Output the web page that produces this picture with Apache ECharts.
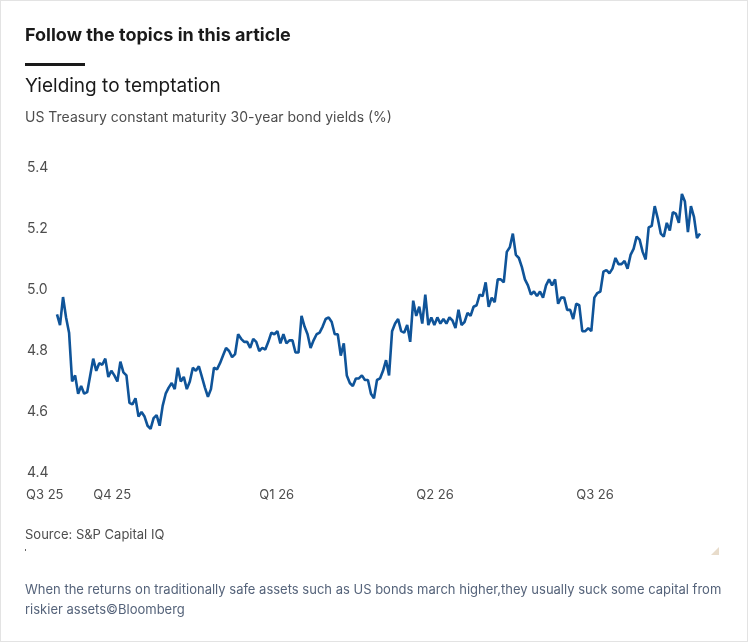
<!DOCTYPE html>
<html>
<head>
<meta charset="utf-8">
<script src="https://cdn.jsdelivr.net/npm/echarts@6/dist/echarts.min.js"></script>
<style>
  html, body { margin: 0; padding: 0; background: #fff; }
  #chart { width: 748px; height: 642px; box-sizing: border-box; border: 1px solid #e3e3e3; }
</style>
</head>
<body>
<div id="chart"></div>
<script>
// 30-year yields
var yields = [
  4.92, 4.885, 4.977, 4.91, 4.86, 4.70, 4.72, 4.66, 4.685, 4.66, 4.665, 4.72, 4.775, 4.735, 4.76, 4.755,
  4.775, 4.715, 4.735, 4.72, 4.70, 4.765, 4.73, 4.72, 4.63, 4.625, 4.645, 4.585, 4.60, 4.585, 4.555, 4.545,
  4.58, 4.59, 4.555, 4.62, 4.66, 4.68, 4.695, 4.675, 4.745, 4.70, 4.715, 4.675, 4.70, 4.745, 4.735, 4.75,
  4.715, 4.68, 4.65, 4.675, 4.745, 4.74, 4.76, 4.785, 4.81, 4.80, 4.78, 4.79, 4.855, 4.84, 4.83, 4.83,
  4.81, 4.84, 4.83, 4.80, 4.81, 4.805, 4.83, 4.86, 4.855, 4.865, 4.825, 4.855, 4.825, 4.835, 4.835, 4.795,
  4.795, 4.915, 4.88, 4.855, 4.81, 4.835, 4.855, 4.86, 4.88, 4.905, 4.91, 4.895, 4.855, 4.855, 4.785, 4.825,
  4.72, 4.695, 4.685, 4.71, 4.71, 4.72, 4.705, 4.705, 4.66, 4.645, 4.705, 4.71, 4.735, 4.77, 4.72, 4.865,
  4.89, 4.905, 4.865, 4.86, 4.885, 4.83, 4.965, 4.915, 4.945, 4.89, 4.985, 4.885, 4.91, 4.885, 4.91, 4.89,
  4.905, 4.89, 4.91, 4.90, 4.875, 4.935, 4.885, 4.895, 4.925, 4.915, 4.945, 4.95, 4.985, 4.98, 5.025, 4.945,
  4.975, 4.96, 5.035, 5.035, 5.025, 5.125, 5.14, 5.185, 5.115, 5.105, 5.075, 5.035, 5.015, 4.985, 4.995, 4.98,
  4.995, 4.975, 5.015, 5.035, 5.015, 5.035, 4.955, 4.975, 4.975, 4.935, 4.935, 4.905, 4.955, 4.95, 4.865, 4.865,
  4.875, 4.865, 4.975, 4.99, 4.995, 5.06, 5.065, 5.055, 5.07, 5.105, 5.085, 5.085, 5.095, 5.07, 5.115, 5.135,
  5.175, 5.165, 5.125, 5.10, 5.205, 5.21, 5.275, 5.235, 5.185, 5.175, 5.22, 5.195, 5.255, 5.25, 5.22, 5.315,
  5.29, 5.19, 5.275, 5.24, 5.17, 5.185
];
// quarter tick labels and the point index where each falls
var quarterLabels = ['Q4 25', 'Q1 26', 'Q2 26', 'Q3 26'];
var quarterIdx = [12, 67, 119, 172];
var firstLabel = 'Q3 25';
var yTicks = [4.4, 4.6, 4.8, 5.0, 5.2, 5.4];

var cats = yields.map(function (v, i) { return i; });
var chart = echarts.init(document.getElementById('chart'));
var font = 'Inter, "Noto Sans", sans-serif';
chart.setOption({
  animation: false,
  textStyle: { fontFamily: font },
  grid: { left: 56, right: 47, top: 167, bottom: 168 },
  xAxis: {
    type: 'category',
    data: cats,
    boundaryGap: false,
    axisLine: { show: false },
    axisTick: { show: false },
    splitLine: { show: false },
    axisLabel: {
      interval: function (i) { return quarterIdx.indexOf(i) >= 0; },
      formatter: function (v) { return quarterLabels[quarterIdx.indexOf(Number(v))]; },
      align: 'left', margin: 16, color: '#4d4d4d', fontSize: 13, fontFamily: font
    }
  },
  yAxis: {
    type: 'value', min: 4.4, max: 5.4, interval: 0.2,
    axisLine: { show: false }, axisTick: { show: false }, splitLine: { show: false },
    axisLabel: {
      align: 'left', margin: 30, color: '#4d4d4d', fontSize: 14, fontFamily: font,
      formatter: function (v) { return v.toFixed(1); }
    }
  },
  series: [{
    type: 'line', data: yields, showSymbol: false,
    lineStyle: { color: '#0f5499', width: 2.6 }
  }],
  graphic: [
    { type: 'text', left: 24, top: 26, style: { text: 'Follow the topics in this article', font: 'bold 18px ' + font, fill: '#1a1a1a' } },
    { type: 'rect', left: 24, top: 62, shape: { width: 60, height: 3 }, style: { fill: '#1a1a1a' } },
    { type: 'text', left: 24, top: 76, style: { text: 'Yielding to temptation', font: '19px ' + font, fill: '#1a1a1a' } },
    { type: 'text', left: 24, top: 110, style: { text: 'US Treasury constant maturity 30-year bond yields (%)', font: '14px ' + font, fill: '#4d4d4d' } },
    { type: 'text', left: 25, top: 488, style: { text: firstLabel, font: '13px ' + font, fill: '#4d4d4d' } },
    { type: 'text', left: 24, top: 528, style: { text: 'Source: S&P Capital IQ', font: '13px ' + font, fill: '#4d4d4d' } },
    { type: 'rect', left: 24, top: 548, shape: { width: 1, height: 2 }, style: { fill: '#666' } },
    { type: 'polygon', shape: { points: [[718, 546], [718, 554], [710, 554]] }, style: { fill: '#e8dccb' } },
    { type: 'text', left: 24, top: 579, style: { text: 'When the returns on traditionally safe assets such as US bonds march higher,they usually suck some capital from\nriskier assets\u00a9Bloomberg', font: '13px ' + font, fill: '#55637a', lineHeight: 20 } }
  ]
});
</script>
</body>
</html>
